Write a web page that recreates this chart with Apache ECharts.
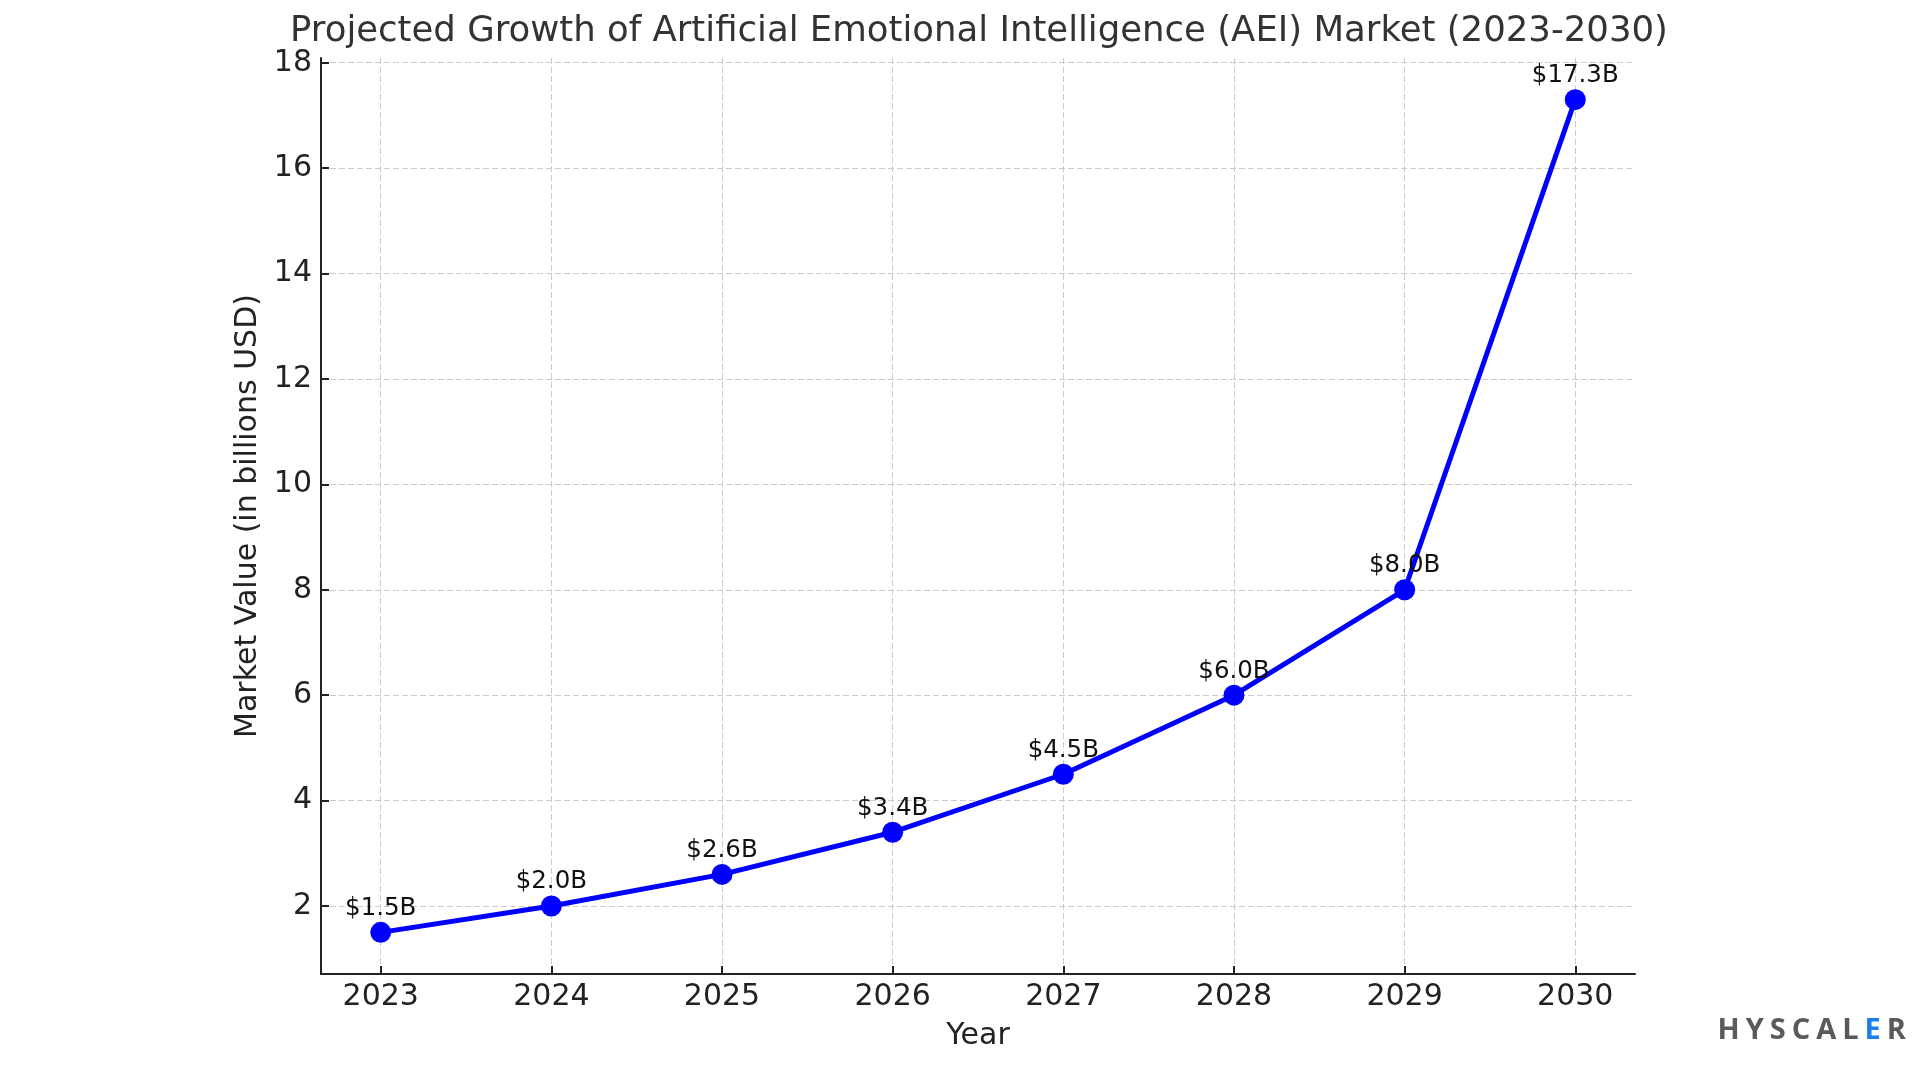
<!DOCTYPE html>
<html>
<head>
<meta charset="utf-8">
<script src="https://cdn.jsdelivr.net/npm/echarts@6/dist/echarts.min.js"></script>
<style>
html,body{margin:0;padding:0;background:#fff;}
#chart{width:1920px;height:1080px;}
</style>
</head>
<body>
<div id="chart"></div>
<script>
const years = [2023, 2024, 2025, 2026, 2027, 2028, 2029, 2030];
const marketValues = [1.5, 2.0, 2.6, 3.4, 4.5, 6.0, 8.0, 17.3];
const yTicks = [2, 4, 6, 8, 10, 12, 14, 16, 18];
const titleText = 'Projected Growth of Artificial Emotional Intelligence (AEI) Market (2023-2030)';

const FONT = '"DejaVu Sans", sans-serif';
const chart = echarts.init(document.getElementById('chart'));

const seriesData = years.map((y, i) => [y, marketValues[i]]);

const logoLetters = ['H', 'Y', 'S', 'C', 'A', 'L', 'E', 'R'];
const logoRich = {
  g: { fontFamily: '"Open Sans", sans-serif', fontWeight: 'bold', fontSize: 29, fill: '#5a5a5a', padding: [0, 3] },
  b: { fontFamily: '"Open Sans", sans-serif', fontWeight: 'bold', fontSize: 29, fill: '#1a7fe8', padding: [0, 3] }
};
const logoText = logoLetters.map(c => c === 'E' ? '{b|' + c + '}' : '{g|' + c + '}').join('');

chart.setOption({
  backgroundColor: '#ffffff',
  animation: false,
  title: {
    text: titleText,
    left: 974,
    top: 9,
    textAlign: 'center',
    textStyle: { fontFamily: FONT, fontSize: 35.5, fontWeight: 'normal', color: '#333333' }
  },
  graphic: [{
    type: 'text',
    right: 14,
    top: 1016,
    style: { text: logoText, rich: logoRich }
  }],
  grid: { left: 321, right: 285, top: 58, bottom: 106, containLabel: false },
  xAxis: {
    type: 'value',
    min: 2022.65,
    max: 2030.35,
    name: 'Year',
    nameLocation: 'middle',
    nameGap: 47,
    nameTextStyle: { fontFamily: FONT, fontSize: 30, color: '#222' },
    axisLine: { show: true, onZero: false, lineStyle: { color: '#222', width: 2 } },
    axisTick: { show: true, inside: true, length: 8, customValues: years, lineStyle: { color: '#222', width: 2 } },
    axisLabel: { customValues: years, margin: 8, fontFamily: FONT, fontSize: 30, color: '#222', formatter: v => String(v) },
    splitLine: { show: true, lineStyle: { color: '#cccccc', width: 1, type: [6, 3] } }
  },
  yAxis: {
    type: 'value',
    min: 0.71,
    max: 18.09,
    name: 'Market Value (in billions USD)',
    nameLocation: 'middle',
    nameGap: 58,
    nameTextStyle: { fontFamily: FONT, fontSize: 30, color: '#222' },
    axisLine: { show: true, onZero: false, lineStyle: { color: '#222', width: 2 } },
    axisTick: { show: true, inside: true, length: 8, customValues: yTicks, lineStyle: { color: '#222', width: 2 } },
    axisLabel: { customValues: yTicks, margin: 9, fontFamily: FONT, fontSize: 30, color: '#222' },
    splitLine: { show: true, lineStyle: { color: '#cccccc', width: 1, type: [6, 3] } }
  },
  series: [{
    type: 'line',
    data: seriesData,
    symbol: 'circle',
    symbolSize: 21,
    itemStyle: { color: '#0000ff' },
    lineStyle: { color: '#0000ff', width: 5 },
    label: {
      show: true,
      position: 'top',
      distance: 1,
      fontFamily: FONT,
      fontSize: 24.5,
      color: '#111',
      formatter: p => '$' + p.value[1].toFixed(1) + 'B'
    }
  }]
});
</script>
</body>
</html>
